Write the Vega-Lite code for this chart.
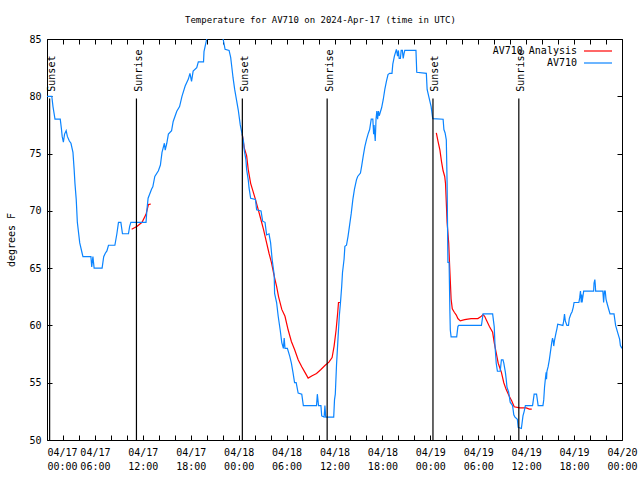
{
  "$schema": "https://vega.github.io/schema/vega-lite/v6.json",
  "width": 575,
  "height": 401,
  "autosize": {"type": "none"},
  "padding": {"left": 47, "top": 39, "right": 18, "bottom": 40},
  "background": "white",
  "config": {
    "font": "DejaVu Sans Mono",
    "view": {"stroke": "black", "strokeWidth": 1},
    "axis": {
      "domain": false, "grid": false,
      "tickColor": "black", "tickSize": -5, "tickWidth": 1,
      "labelColor": "black", "labelFont": "DejaVu Sans Mono", "labelFontSize": 10,
      "labelPadding": 12,
      "titleColor": "black", "titleFont": "DejaVu Sans Mono", "titleFontSize": 10, "titleFontWeight": "normal"
    },
    "legend": {
      "orient": "top-right", "offset": 7, "padding": 0, "rowPadding": 2,
      "symbolType": "M-4,0H4", "symbolSize": 49, "symbolStrokeWidth": 1.2,
      "labelAlign": "right", "labelOffset": -26, "labelFont": "DejaVu Sans Mono",
      "labelFontSize": 10, "labelColor": "black", "labelLimit": 0
    }
  },
  "title": {
    "text": "Temperature for AV710 on 2024-Apr-17 (time in UTC)",
    "font": "DejaVu Sans Mono", "fontSize": 9, "fontWeight": "normal", "color": "black",
    "anchor": "middle", "dx": -14, "offset": 9
  },
  "datasets": {
    "analysis": [
      {"seg": 1, "h": 10.6, "v": 68.4}, {"seg": 1, "h": 11.3, "v": 68.65}, {"seg": 1, "h": 11.9, "v": 69.0},
      {"seg": 1, "h": 12.4, "v": 69.7}, {"seg": 1, "h": 12.7, "v": 70.55}, {"seg": 1, "h": 13.0, "v": 70.6},
      {"seg": 2, "h": 24.45, "v": 76.7}, {"seg": 2, "h": 24.7, "v": 75.5}, {"seg": 2, "h": 25.0, "v": 74.8},
      {"seg": 2, "h": 25.2, "v": 73.6}, {"seg": 2, "h": 25.5, "v": 72.4}, {"seg": 2, "h": 25.8, "v": 71.7},
      {"seg": 2, "h": 26.1, "v": 71.0}, {"seg": 2, "h": 26.45, "v": 70.1}, {"seg": 2, "h": 26.8, "v": 69.2},
      {"seg": 2, "h": 27.1, "v": 68.4}, {"seg": 2, "h": 27.5, "v": 67.2}, {"seg": 2, "h": 27.8, "v": 66.3},
      {"seg": 2, "h": 28.1, "v": 65.5}, {"seg": 2, "h": 28.45, "v": 64.3}, {"seg": 2, "h": 28.75, "v": 63.4},
      {"seg": 2, "h": 29.0, "v": 62.5}, {"seg": 2, "h": 29.4, "v": 61.4}, {"seg": 2, "h": 29.8, "v": 60.8},
      {"seg": 2, "h": 30.2, "v": 59.6}, {"seg": 2, "h": 30.6, "v": 58.6}, {"seg": 2, "h": 31.0, "v": 57.9},
      {"seg": 2, "h": 31.45, "v": 57.0}, {"seg": 2, "h": 31.9, "v": 56.4}, {"seg": 2, "h": 32.3, "v": 55.9},
      {"seg": 2, "h": 32.7, "v": 55.4}, {"seg": 2, "h": 33.2, "v": 55.6}, {"seg": 2, "h": 33.75, "v": 55.8},
      {"seg": 2, "h": 34.3, "v": 56.15}, {"seg": 2, "h": 34.8, "v": 56.5}, {"seg": 2, "h": 35.3, "v": 56.8},
      {"seg": 2, "h": 35.7, "v": 57.2}, {"seg": 2, "h": 35.95, "v": 58.2}, {"seg": 2, "h": 36.2, "v": 59.6},
      {"seg": 2, "h": 36.4, "v": 61.1}, {"seg": 2, "h": 36.5, "v": 62.0}, {"seg": 2, "h": 36.7, "v": 62.0},
      {"seg": 3, "h": 48.75, "v": 76.8}, {"seg": 3, "h": 48.95, "v": 76.1}, {"seg": 3, "h": 49.2, "v": 75.3},
      {"seg": 3, "h": 49.4, "v": 74.3}, {"seg": 3, "h": 49.6, "v": 73.5}, {"seg": 3, "h": 49.8, "v": 73.0},
      {"seg": 3, "h": 49.9, "v": 72.4}, {"seg": 3, "h": 50.0, "v": 70.7}, {"seg": 3, "h": 50.1, "v": 69.0},
      {"seg": 3, "h": 50.3, "v": 67.2}, {"seg": 3, "h": 50.4, "v": 65.5}, {"seg": 3, "h": 50.5, "v": 63.9},
      {"seg": 3, "h": 50.6, "v": 62.3}, {"seg": 3, "h": 50.75, "v": 61.45}, {"seg": 3, "h": 51.0, "v": 61.15},
      {"seg": 3, "h": 51.25, "v": 60.9}, {"seg": 3, "h": 51.45, "v": 60.6}, {"seg": 3, "h": 51.75, "v": 60.4},
      {"seg": 3, "h": 52.3, "v": 60.5}, {"seg": 3, "h": 53.1, "v": 60.6}, {"seg": 3, "h": 53.95, "v": 60.6},
      {"seg": 3, "h": 54.3, "v": 60.75}, {"seg": 3, "h": 54.6, "v": 60.95}, {"seg": 3, "h": 54.8, "v": 60.8},
      {"seg": 3, "h": 55.0, "v": 60.5}, {"seg": 3, "h": 55.4, "v": 59.9}, {"seg": 3, "h": 55.8, "v": 59.4},
      {"seg": 3, "h": 56.0, "v": 58.5}, {"seg": 3, "h": 56.25, "v": 57.6}, {"seg": 3, "h": 56.5, "v": 56.7},
      {"seg": 3, "h": 56.9, "v": 55.9}, {"seg": 3, "h": 57.2, "v": 55.0}, {"seg": 3, "h": 57.5, "v": 54.4},
      {"seg": 3, "h": 57.9, "v": 53.8}, {"seg": 3, "h": 58.2, "v": 53.4}, {"seg": 3, "h": 58.5, "v": 52.9},
      {"seg": 3, "h": 59.2, "v": 52.8}, {"seg": 3, "h": 60.0, "v": 52.8}, {"seg": 3, "h": 60.4, "v": 52.7},
      {"seg": 3, "h": 60.7, "v": 52.7}
    ],
    "obs": [
      {"h": 0.0, "v": 80}, {"h": 0.6, "v": 80}, {"h": 0.75, "v": 79.1}, {"h": 1.0, "v": 78},
      {"h": 1.66, "v": 78}, {"h": 1.8, "v": 77.2}, {"h": 1.9, "v": 76.5}, {"h": 2.05, "v": 76.0},
      {"h": 2.2, "v": 76.7}, {"h": 2.4, "v": 77.0}, {"h": 2.55, "v": 76.5}, {"h": 2.8, "v": 76.1},
      {"h": 3.0, "v": 75.9}, {"h": 3.25, "v": 75.1}, {"h": 3.4, "v": 73.6}, {"h": 3.5, "v": 72.4},
      {"h": 3.66, "v": 71.0}, {"h": 3.8, "v": 69.0}, {"h": 4.1, "v": 67.2}, {"h": 4.4, "v": 66.3},
      {"h": 4.5, "v": 66}, {"h": 5.5, "v": 66}, {"h": 5.6, "v": 65.1}, {"h": 5.75, "v": 66},
      {"h": 5.9, "v": 65}, {"h": 6.9, "v": 65}, {"h": 7.1, "v": 66}, {"h": 7.3, "v": 66.3},
      {"h": 7.5, "v": 66.5}, {"h": 7.7, "v": 67}, {"h": 8.5, "v": 67}, {"h": 8.75, "v": 68},
      {"h": 8.95, "v": 69}, {"h": 9.25, "v": 69}, {"h": 9.45, "v": 68}, {"h": 10.2, "v": 68},
      {"h": 10.35, "v": 68.65}, {"h": 10.5, "v": 69}, {"h": 12.4, "v": 69}, {"h": 12.5, "v": 70},
      {"h": 12.66, "v": 71.1}, {"h": 13.1, "v": 71.9}, {"h": 13.25, "v": 72.1}, {"h": 13.5, "v": 73},
      {"h": 13.95, "v": 73.5}, {"h": 14.2, "v": 74}, {"h": 14.4, "v": 75.1}, {"h": 14.7, "v": 75.9},
      {"h": 14.8, "v": 75.3}, {"h": 15.0, "v": 75.9}, {"h": 15.2, "v": 76.7}, {"h": 15.6, "v": 77},
      {"h": 15.8, "v": 77.8}, {"h": 16.25, "v": 78.7}, {"h": 16.6, "v": 79.1}, {"h": 16.9, "v": 80},
      {"h": 17.3, "v": 80.9}, {"h": 17.7, "v": 81.5}, {"h": 17.9, "v": 82}, {"h": 18.1, "v": 81.3},
      {"h": 18.3, "v": 82.2}, {"h": 18.75, "v": 82.5}, {"h": 18.95, "v": 83}, {"h": 19.6, "v": 83},
      {"h": 19.66, "v": 83.9}, {"h": 20.0, "v": 85}, {"h": 20.4, "v": 86}, {"h": 21.7, "v": 86},
      {"h": 22.05, "v": 85}, {"h": 22.3, "v": 84.1}, {"h": 22.8, "v": 84}, {"h": 23.0, "v": 83.4},
      {"h": 23.1, "v": 82.8}, {"h": 23.3, "v": 81.6}, {"h": 23.5, "v": 80.6}, {"h": 23.75, "v": 79.6},
      {"h": 23.95, "v": 78.8}, {"h": 24.2, "v": 77.5}, {"h": 24.4, "v": 76.8}, {"h": 24.6, "v": 76.1},
      {"h": 24.7, "v": 75.3}, {"h": 24.9, "v": 74.5}, {"h": 25.0, "v": 73.6}, {"h": 25.2, "v": 72.7},
      {"h": 25.3, "v": 72.0}, {"h": 25.5, "v": 71.1}, {"h": 26.1, "v": 71}, {"h": 26.25, "v": 70.1},
      {"h": 26.8, "v": 70}, {"h": 27.0, "v": 69.1}, {"h": 27.3, "v": 69}, {"h": 27.5, "v": 67.9},
      {"h": 27.8, "v": 68}, {"h": 28.0, "v": 67.2}, {"h": 28.2, "v": 65.7}, {"h": 28.45, "v": 64.4},
      {"h": 28.5, "v": 62.8}, {"h": 28.75, "v": 62.0}, {"h": 28.95, "v": 60.8}, {"h": 29.2, "v": 59.6},
      {"h": 29.4, "v": 58.5}, {"h": 29.6, "v": 58.0}, {"h": 29.7, "v": 58.9}, {"h": 29.8, "v": 58},
      {"h": 30.1, "v": 58}, {"h": 30.4, "v": 57.3}, {"h": 30.6, "v": 56.7}, {"h": 30.8, "v": 55.9},
      {"h": 31.0, "v": 55.0}, {"h": 31.2, "v": 55}, {"h": 31.45, "v": 54.1}, {"h": 31.9, "v": 54},
      {"h": 32.1, "v": 53}, {"h": 33.75, "v": 53}, {"h": 33.85, "v": 54.0}, {"h": 34.0, "v": 53},
      {"h": 34.3, "v": 53}, {"h": 34.4, "v": 52.1}, {"h": 34.7, "v": 52}, {"h": 34.8, "v": 53},
      {"h": 34.9, "v": 52}, {"h": 35.9, "v": 52}, {"h": 36.0, "v": 53.5}, {"h": 36.1, "v": 54},
      {"h": 36.25, "v": 56.5}, {"h": 36.45, "v": 59}, {"h": 36.6, "v": 60.8}, {"h": 36.75, "v": 62},
      {"h": 36.9, "v": 63.4}, {"h": 37.0, "v": 64.6}, {"h": 37.2, "v": 65.8}, {"h": 37.3, "v": 66.9},
      {"h": 37.5, "v": 67}, {"h": 37.7, "v": 67.8}, {"h": 37.9, "v": 68.8}, {"h": 38.1, "v": 69.8},
      {"h": 38.3, "v": 71.0}, {"h": 38.5, "v": 71.9}, {"h": 38.75, "v": 72.7}, {"h": 38.9, "v": 73.0},
      {"h": 39.25, "v": 73.3}, {"h": 39.4, "v": 73.9}, {"h": 39.6, "v": 74.8}, {"h": 39.8, "v": 75.6},
      {"h": 40.0, "v": 76.2}, {"h": 40.2, "v": 76.7}, {"h": 40.4, "v": 77.1}, {"h": 40.6, "v": 78.0},
      {"h": 40.8, "v": 78}, {"h": 40.9, "v": 76.7}, {"h": 40.95, "v": 77.5}, {"h": 41.1, "v": 76.1},
      {"h": 41.2, "v": 78}, {"h": 41.3, "v": 78.7}, {"h": 41.4, "v": 78}, {"h": 41.5, "v": 78.7},
      {"h": 41.6, "v": 78.3}, {"h": 41.9, "v": 79.0}, {"h": 42.1, "v": 79.7}, {"h": 42.3, "v": 80.6},
      {"h": 42.5, "v": 81.3}, {"h": 42.7, "v": 81.9}, {"h": 42.9, "v": 82}, {"h": 43.2, "v": 82},
      {"h": 43.3, "v": 82.8}, {"h": 43.5, "v": 83.5}, {"h": 43.75, "v": 84.1}, {"h": 43.9, "v": 83.5},
      {"h": 44.0, "v": 84}, {"h": 44.1, "v": 83.3}, {"h": 44.25, "v": 83.3}, {"h": 44.35, "v": 84},
      {"h": 44.5, "v": 84}, {"h": 44.6, "v": 83.3}, {"h": 44.7, "v": 83.7}, {"h": 44.8, "v": 84},
      {"h": 46.2, "v": 84}, {"h": 46.3, "v": 82.1}, {"h": 47.5, "v": 82}, {"h": 47.6, "v": 80.6},
      {"h": 47.8, "v": 80.0}, {"h": 48.1, "v": 79.1}, {"h": 48.3, "v": 78.05}, {"h": 49.6, "v": 78},
      {"h": 49.7, "v": 77.1}, {"h": 49.85, "v": 76.8}, {"h": 50.0, "v": 76.2}, {"h": 50.1, "v": 72.4},
      {"h": 50.2, "v": 65.5}, {"h": 50.35, "v": 65.5}, {"h": 50.45, "v": 61.2}, {"h": 50.5, "v": 59.6},
      {"h": 50.6, "v": 59.0}, {"h": 51.3, "v": 59}, {"h": 51.45, "v": 59.9}, {"h": 51.55, "v": 60},
      {"h": 54.4, "v": 60}, {"h": 54.6, "v": 61.0}, {"h": 55.8, "v": 61}, {"h": 56.0, "v": 59.9},
      {"h": 56.1, "v": 58.2}, {"h": 56.25, "v": 56.7}, {"h": 56.4, "v": 56}, {"h": 56.75, "v": 56},
      {"h": 56.9, "v": 57}, {"h": 57.1, "v": 57}, {"h": 57.2, "v": 56.7}, {"h": 57.4, "v": 55.9},
      {"h": 57.5, "v": 55.3}, {"h": 57.6, "v": 54.6}, {"h": 57.8, "v": 54.2}, {"h": 58.0, "v": 53.3},
      {"h": 58.3, "v": 53}, {"h": 58.45, "v": 52.2}, {"h": 58.6, "v": 52}, {"h": 58.9, "v": 51.8},
      {"h": 59.0, "v": 51.1}, {"h": 59.4, "v": 51}, {"h": 59.6, "v": 52.1}, {"h": 59.75, "v": 52.5},
      {"h": 59.9, "v": 53}, {"h": 60.8, "v": 53}, {"h": 60.9, "v": 53.5}, {"h": 61.0, "v": 54},
      {"h": 61.3, "v": 54}, {"h": 61.4, "v": 53.5}, {"h": 61.5, "v": 53}, {"h": 62.1, "v": 53},
      {"h": 62.2, "v": 53.5}, {"h": 62.3, "v": 54.6}, {"h": 62.4, "v": 55.3}, {"h": 62.5, "v": 55.9},
      {"h": 62.55, "v": 55.3}, {"h": 62.6, "v": 56}, {"h": 62.75, "v": 56.4}, {"h": 62.9, "v": 57.0},
      {"h": 63.0, "v": 57.5}, {"h": 63.2, "v": 58.5}, {"h": 63.3, "v": 58.9}, {"h": 63.4, "v": 58.6},
      {"h": 63.45, "v": 58.2}, {"h": 63.55, "v": 58.7}, {"h": 63.75, "v": 59.4}, {"h": 63.85, "v": 59.7},
      {"h": 63.95, "v": 60.1}, {"h": 64.6, "v": 60}, {"h": 64.7, "v": 60.4}, {"h": 64.8, "v": 61.0},
      {"h": 64.9, "v": 60.4}, {"h": 65.1, "v": 60}, {"h": 65.3, "v": 60}, {"h": 65.4, "v": 60.6},
      {"h": 65.6, "v": 61}, {"h": 65.75, "v": 61.2}, {"h": 65.9, "v": 61.6}, {"h": 66.0, "v": 62.0},
      {"h": 66.6, "v": 62}, {"h": 66.7, "v": 62.4}, {"h": 66.8, "v": 63.0}, {"h": 66.9, "v": 62},
      {"h": 66.95, "v": 62.7}, {"h": 67.0, "v": 62}, {"h": 67.1, "v": 62.5}, {"h": 67.2, "v": 63},
      {"h": 68.45, "v": 63}, {"h": 68.5, "v": 63.7}, {"h": 68.6, "v": 64.0}, {"h": 68.65, "v": 63.6},
      {"h": 68.7, "v": 63}, {"h": 69.6, "v": 63}, {"h": 69.7, "v": 62}, {"h": 69.8, "v": 63},
      {"h": 69.9, "v": 63}, {"h": 70.0, "v": 62.3}, {"h": 70.1, "v": 62}, {"h": 70.3, "v": 61.5},
      {"h": 70.5, "v": 61.0}, {"h": 71.0, "v": 61}, {"h": 71.2, "v": 60}, {"h": 71.45, "v": 59.4},
      {"h": 71.7, "v": 58.8}, {"h": 71.8, "v": 58.25}, {"h": 72.0, "v": 58}
    ],
    "sun": [
      {"h": 0.33, "event": "Sunset"}, {"h": 11.2, "event": "Sunrise"},
      {"h": 24.46, "event": "Sunset"}, {"h": 35.08, "event": "Sunrise"},
      {"h": 48.33, "event": "Sunset"}, {"h": 59.08, "event": "Sunrise"}
    ]
  },
  "layer": [
    {
      "data": {"name": "analysis"},
      "mark": {"type": "line", "clip": true, "strokeWidth": 1.2},
      "encoding": {
        "x": {
          "field": "h", "type": "quantitative",
          "scale": {"domain": [0, 72], "nice": false, "zero": false},
          "axis": {
            "orient": "bottom", "title": null,
            "values": [0,2,4,6,8,10,12,14,16,18,20,22,24,26,28,30,32,34,36,38,40,42,44,46,48,50,52,54,56,58,60,62,64,66,68,70,72],
            "labelExpr": "datum.value % 6 == 0 ? ['04/' + (17 + floor(datum.value / 24)), ((datum.value % 24) < 10 ? '0' : '') + (datum.value % 24) + ':00'] : ''",
            "labelAlign": {"condition": {"test": "datum.value == 0", "value": "left"}, "value": "center"},
            "labelLineHeight": 14.5, "labelOverlap": false, "labelFlush": false, "labelBound": false
          }
        },
        "y": {
          "field": "v", "type": "quantitative",
          "scale": {"domain": [50, 85], "nice": false, "zero": false},
          "axis": {"orient": "left", "title": "degrees F", "values": [50,55,60,65,70,75,80,85], "titlePadding": 12, "labelPadding": 11}
        },
        "color": {
          "datum": "AV710 Analysis", "type": "nominal",
          "scale": {"domain": ["AV710 Analysis", "AV710"], "range": ["#ff0000", "#0a84ff"]},
          "legend": {"title": null}
        },
        "detail": {"field": "seg"}
      }
    },
    {
      "data": {"name": "obs"},
      "mark": {"type": "line", "clip": true, "strokeWidth": 1.2},
      "encoding": {
        "x": {"field": "h", "type": "quantitative", "axis": null},
        "y": {"field": "v", "type": "quantitative", "axis": null},
        "color": {"datum": "AV710", "type": "nominal"}
      }
    },
    {
      "data": {"name": "sun"},
      "mark": {"type": "rule", "color": "black", "strokeWidth": 1.2},
      "encoding": {
        "x": {
          "field": "h", "type": "quantitative",
          "axis": {"orient": "top", "title": null, "labels": false,
            "values": [0,2,4,6,8,10,12,14,16,18,20,22,24,26,28,30,32,34,36,38,40,42,44,46,48,50,52,54,56,58,60,62,64,66,68,70,72]}
        },
        "y": {"datum": 50, "type": "quantitative",
          "axis": {"orient": "right", "title": null, "labels": false, "values": [50,55,60,65,70,75,80,85]}},
        "y2": {"datum": 79.8}
      }
    },
    {
      "data": {"name": "sun"},
      "mark": {"type": "text", "angle": 270, "align": "left", "baseline": "alphabetic", "dy": 5.5,
        "font": "DejaVu Sans Mono", "fontSize": 10, "color": "black"},
      "encoding": {
        "x": {"field": "h", "type": "quantitative", "axis": null},
        "y": {"datum": 80.4, "type": "quantitative", "axis": null},
        "text": {"field": "event"}
      }
    }
  ],
  "resolve": {"axis": {"x": "independent", "y": "independent"}}
}
